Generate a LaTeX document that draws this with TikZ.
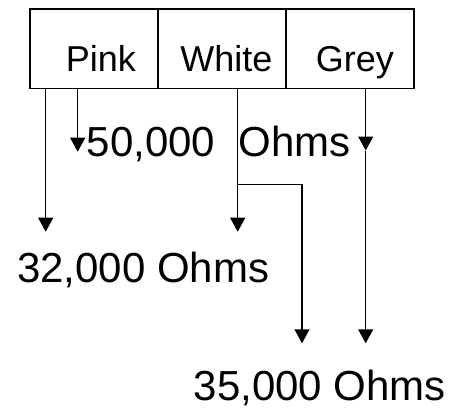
\documentclass[tikz,border=0pt]{standalone}
\usepackage{fontspec}
\setmainfont{Liberation Sans}
\usetikzlibrary{arrows.meta}
\begin{document}
\begin{tikzpicture}[x=0.75pt,y=-0.75pt,
  cell/.style={draw,line width=1.1pt,minimum width=96pt,minimum height=59.8pt,inner sep=0pt,outer sep=0pt},
  celltext/.style={anchor=base west,inner sep=0pt,font=\fontsize{27}{32}\selectfont},
  big/.style={anchor=base west,inner sep=0pt,font=\fontsize{31.5}{36}\selectfont},
  arr/.style={line width=1.1pt,-{Triangle[width=11.2pt,length=10.5pt]}},
  wire/.style={line width=1.1pt}]
\useasboundingbox (0,0) rectangle (462,412);
% cells
\node[cell] (pink)  at (94,48.85) {};
\node[cell] (white) at (222,48.85) {};
\node[cell] (grey)  at (350,48.85) {};
\node[celltext] (tpink)  at (65.5,71) {Pink};
\node[celltext] (twhite) at (180,71) {White};
\node[celltext] (tgrey)  at (315.5,71) {Grey};
% labels
\node[big] (l50) at (86.5,156.7) {50,000~~Ohms};
\node[big] (l32) at (16.8,282.7) {32,000 Ohms};
\node[big] (l35) at (193.5,400) {35,000 Ohms};
% free ends
\coordinate (p1) at (45.7,231.7);
\coordinate (p2) at (77.7,151.7);
\coordinate (w1) at (237.7,231.7);
\coordinate (wb) at (237.7,184.3);
\coordinate (w2) at (302,343.3);
\coordinate (g1) at (365.7,150.5);
\coordinate (g2) at (365.7,343.3);
% connectors
\draw[arr] (pink.south -| p1) -- (p1);
\draw[arr] (pink.south -| p2) -- (p2);
\draw[arr] (white.south -| w1) -- (w1);
\draw[arr] (wb) -| (w2);
\draw[arr] (grey.south -| g1) -- (g1);
\draw[arr] (g1) -- (g2);
\end{tikzpicture}
\end{document}
